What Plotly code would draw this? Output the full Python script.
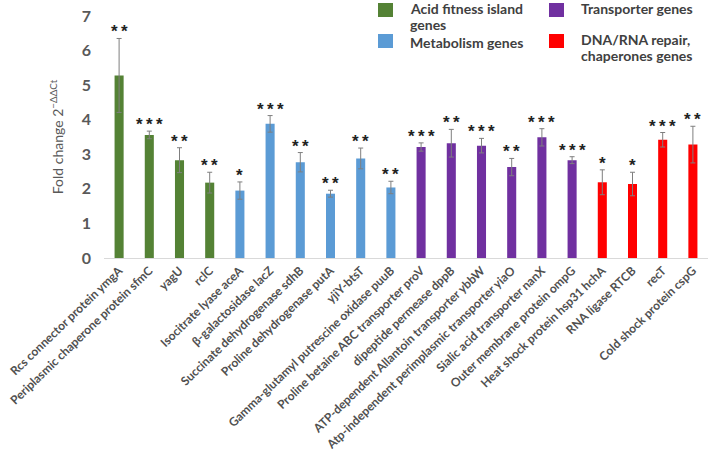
import plotly.graph_objects as go

genes = [
    "Rcs connector protein ymgA", "Periplasmic chaperone protein sfmC", "yagU", "rclC",
    "Isocitrate lyase aceA", "β-galactosidase lacZ", "Succinate dehydrogenase sdhB",
    "Proline dehydrogenase putA", "yjiY-btsT", "Gamma-glutamyl putrescine oxidase puuB",
    "Proline betaine ABC transporter proV", "dipeptide permease dppB",
    "ATP-dependent Allantoin transporter ybbW", "Atp-independent perimplasmic transporter yiaO",
    "Sialic acid transporter nanX", "Outer membrane protein ompG",
    "Heat shock protein hsp31 hchA", "RNA ligase RTCB", "recT", "Cold shock protein cspG",
]
fold_change = [5.28, 3.56, 2.83, 2.18, 1.95, 3.88, 2.77, 1.86, 2.88, 2.04,
               3.21, 3.32, 3.25, 2.63, 3.49, 2.83, 2.19, 2.14, 3.42, 3.28]
error = [1.07, 0.11, 0.36, 0.30, 0.25, 0.24, 0.28, 0.10, 0.30, 0.18,
         0.12, 0.40, 0.21, 0.25, 0.25, 0.10, 0.36, 0.34, 0.21, 0.53]
stars = ["**", "***", "**", "**", "*", "***", "**", "**", "**", "**",
         "***", "**", "***", "**", "***", "***", "*", "*", "***", "**"]
group = ["acid"] * 4 + ["metab"] * 6 + ["trans"] * 6 + ["dna"] * 4

group_lines = {
    "acid": ["Acid fitness island", "genes"],
    "metab": ["Metabolism genes"],
    "trans": ["Transporter genes"],
    "dna": ["DNA/RNA repair,", "chaperones genes"],
}
group_colors = {"acid": "#548235", "metab": "#5B9BD5", "trans": "#7030A0", "dna": "#FF0000"}

fig = go.Figure()
fig.add_trace(go.Bar(
    x=genes, y=fold_change,
    marker=dict(color=[group_colors[g] for g in group], line=dict(width=0)),
    error_y=dict(type="data", array=error, color="#7F7F7F", thickness=1, width=2.5),
    width=0.3, showlegend=False,
))

for g_name, v, e, s in zip(genes, fold_change, error, stars):
    fig.add_annotation(x=g_name, y=v + e, text="\u2009".join(s), showarrow=False,
                       yanchor="bottom", yshift=-5,
                       font=dict(family="Liberation Sans", size=17, color="#222222",
                                 weight="bold"))

# manual legend (pixel positions converted to paper coords)
def px2x(px):
    return (px - 104) / 604

def py2y(py):
    return (258 - py) / 242

leg = [("acid", 378, 3), ("metab", 378, 34), ("trans", 549, 3), ("dna", 549, 34)]
for key, px, py in leg:
    fig.add_shape(type="rect", xref="paper", yref="paper",
                  x0=px2x(px), x1=px2x(px + 15), y0=py2y(py + 14), y1=py2y(py),
                  fillcolor=group_colors[key], line=dict(width=0))
    for i, line in enumerate(group_lines[key]):
        cy = py + 9 if key == "metab" else py + 5 + i * 16.5
        fig.add_annotation(xref="paper", yref="paper",
                           x=px2x(px + 30), y=py2y(cy),
                           xanchor="left", yanchor="middle", align="left", showarrow=False,
                           text=line,
                           font=dict(family="Lato", size=14, color="#404040", weight="bold"))

fig.update_layout(
    width=709, height=474,
    margin=dict(l=104, r=1, t=16, b=216),
    plot_bgcolor="white", paper_bgcolor="white",
    xaxis=dict(tickangle=-44, showline=True, linecolor="#D9D9D9", linewidth=1,
               ticks="", showgrid=False, automargin=False,
               tickfont=dict(family="Lato", size=12, color="#505050", weight="bold")),
    yaxis=dict(range=[0, 7], dtick=1, showgrid=False, zeroline=False, showline=False,
               ticks="", automargin=False, ticklabelstandoff=12,
               tickfont=dict(family="Lato", size=16, color="#595959", weight="bold"),
               title=dict(text="Fold change 2<sup>−ΔΔCt</sup>", standoff=14,
                          font=dict(family="Lato", size=14, color="#595959"))),
)

fig.write_html("out.html")
